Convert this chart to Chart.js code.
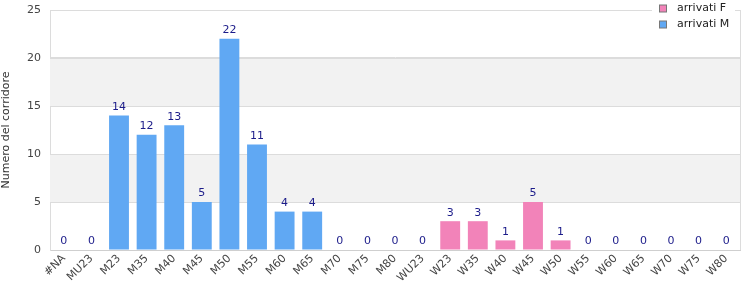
<!DOCTYPE html>
<html>
<head>
<meta charset="utf-8">
<script src="https://cdn.jsdelivr.net/npm/chart.js@4/dist/chart.umd.min.js"></script>
<style>
  body { margin: 0; background: #fff; }
  #wrap { width: 750px; height: 300px; }
</style>
</head>
<body>
<div id="wrap"><canvas id="arriviChart"></canvas></div>
<script>
// categories and series
var categories = ['#NA', 'MU23', 'M23', 'M35', 'M40', 'M45', 'M50', 'M55', 'M60', 'M65', 'M70', 'M75', 'M80',
  'WU23', 'W23', 'W35', 'W40', 'W45', 'W50', 'W55', 'W60', 'W65', 'W70', 'W75', 'W80'];
var arrivatiM = [0, 0, 14, 12, 13, 5, 22, 11, 4, 4, 0, 0, 0,
  null, null, null, null, null, null, null, null, null, null, null, null];
var arrivatiF = [null, null, null, null, null, null, null, null, null, null, null, null, null,
  0, 3, 3, 1, 5, 1, 0, 0, 0, 0, 0, 0];
var yTicks = [0, 5, 10, 15, 20, 25];

var FONT = '"DejaVu Sans", Verdana, sans-serif';

// Function to paint the alternating grey bands behind the bars
var bandsPlugin = {
  id: 'bands',
  beforeDatasetsDraw: function (chart) {
    var ctx = chart.ctx, y = chart.scales.y, area = chart.chartArea;
    ctx.save();
    ctx.fillStyle = '#f2f2f2';
    for (var i = 0; i < yTicks.length - 1; i++) {
      if (i % 2 === 1) {
        var top = y.getPixelForValue(yTicks[i + 1]);
        var bot = y.getPixelForValue(yTicks[i]);
        ctx.fillRect(area.left, top, area.right - area.left, bot - top);
      }
    }
    // redraw grid lines over the bands
    ctx.strokeStyle = '#dcdcdc';
    ctx.lineWidth = 1;
    for (var j = 1; j < yTicks.length; j++) {
      var py = Math.round(y.getPixelForValue(yTicks[j])) + 0.5;
      ctx.beginPath();
      ctx.moveTo(area.left, py);
      ctx.lineTo(area.right, py);
      ctx.stroke();
    }
    // right border
    ctx.beginPath();
    ctx.moveTo(Math.round(area.right) + 0.5, area.top);
    ctx.lineTo(Math.round(area.right) + 0.5, area.bottom);
    ctx.stroke();
    ctx.restore();
  }
};

// Function to write the value above each bar and draw the legend box
var labelsPlugin = {
  id: 'valueLabels',
  afterDatasetsDraw: function (chart) {
    var ctx = chart.ctx;
    ctx.save();
    ctx.font = '11px ' + FONT;
    ctx.fillStyle = '#1c1c8a';
    ctx.textAlign = 'center';
    ctx.textBaseline = 'bottom';
    chart.data.datasets.forEach(function (ds, di) {
      var meta = chart.getDatasetMeta(di);
      meta.data.forEach(function (bar, i) {
        if (ds.data[i] === null) return;
        ctx.fillText(String(ds.data[i]), bar.x, bar.y - 3);
      });
    });

    // legend (white box hides the top border line)
    ctx.fillStyle = '#ffffff';
    ctx.fillRect(652, 0, 83, 36);
    var items = [
      { text: 'arrivati F', color: '#f283b9' },
      { text: 'arrivati M', color: '#60a8f3' }
    ];
    ctx.textAlign = 'left';
    ctx.textBaseline = 'middle';
    for (var k = 0; k < items.length; k++) {
      var cy = 8.5 + k * 16;
      ctx.fillStyle = items[k].color;
      ctx.fillRect(659.5, cy - 3.5, 7, 7);
      ctx.strokeStyle = '#777';
      ctx.lineWidth = 1;
      ctx.strokeRect(659.5, cy - 3.5, 7, 7);
      ctx.fillStyle = '#222';
      ctx.fillText(items[k].text, 677, cy);
    }
    ctx.restore();
  }
};

var ctx = document.getElementById('arriviChart').getContext('2d');
var arriviChart = new Chart(ctx, {
  type: 'bar',
  data: {
    labels: categories,
    datasets: [{
      label: 'arrivati F',
      data: arrivatiF,
      backgroundColor: '#f283b9',
      stack: 's'
    }, {
      label: 'arrivati M',
      data: arrivatiM,
      backgroundColor: '#60a8f3',
      stack: 's'
    }]
  },
  options: {
    responsive: true,
    maintainAspectRatio: false,
    animation: false,
    layout: { padding: { top: 10, right: 10, left: 0, bottom: 0 } },
    categoryPercentage: 1,
    barPercentage: 0.72,
    plugins: {
      legend: { display: false },
      tooltip: { enabled: false }
    },
    scales: {
      x: {
        stacked: true,
        grid: { display: false, drawTicks: false },
        border: { color: '#cfcfcf' },
        ticks: {
          font: { family: FONT, size: 11 },
          color: '#444',
          minRotation: 45,
          maxRotation: 45,
          autoSkip: false,
          padding: 2
        },
        afterFit: function (scale) {
          scale.height = 50;
          scale.paddingLeft = 0;
          scale.paddingRight = 0;
        }
      },
      y: {
        stacked: true,
        min: 0,
        max: 25,
        grid: { color: '#dcdcdc', drawTicks: false },
        border: { color: '#dcdcdc' },
        ticks: {
          stepSize: 5,
          font: { family: FONT, size: 11 },
          color: '#444',
          padding: 9
        },
        title: {
          display: true,
          text: 'Numero del corridore',
          font: { family: FONT, size: 11 },
          color: '#333',
          padding: 0
        },
        afterFit: function (scale) {
          scale.width = 50;
          scale.paddingTop = 0;
          scale.paddingBottom = 0;
        }
      }
    }
  },
  plugins: [bandsPlugin, labelsPlugin]
});
</script>
</body>
</html>
